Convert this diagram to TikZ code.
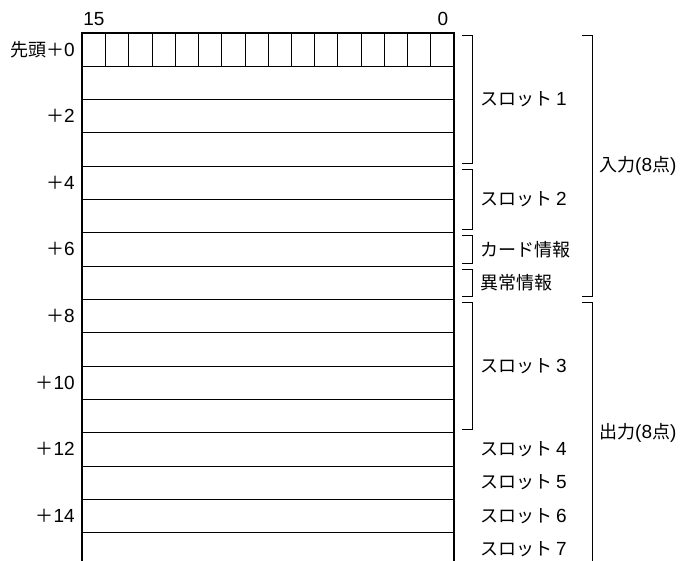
\documentclass[tikz,border=0pt]{standalone}
\usepackage{fontspec}
\setmainfont{Noto Sans CJK JP}
\newfontfamily\lat{Liberation Sans}
\newcommand\nm[1]{{\lat\fontsize{19}{20}\selectfont #1}}
\begin{document}
\begin{tikzpicture}[x=1pt,y=-1pt,
  frame/.style={line width=1.8pt},
  row line/.style={line width=0.8pt},
  bracket/.style={line width=0.8pt},
  lbl/.style={font=\fontsize{18}{20}\selectfont,inner sep=0pt},
  addr/.style={lbl,anchor=east},
  slot/.style={lbl,anchor=west}]
  \useasboundingbox (0,0) rectangle (684,561);
  \def\T{32.7}\def\h{33.33}\def\L{82.3}\def\R{454}

  % rows and bit cells
  \foreach \k in {1,...,15}
    \draw[row line] (\L,\T+\k*\h) -- (\R,\T+\k*\h);
  \foreach \i in {1,...,15}
    \draw[row line] (\L+\i*23.23,\T) -- (\L+\i*23.23,\T+\h);
  \draw[frame] (\L,561) -- (\L,\T) -- (\R,\T) -- (\R,561);

  \node[lbl] (b15) at (94,19) {\nm{15}};
  \node[lbl] (b0) at (443,19) {\nm{0}};

  % addresses
  \node[addr] (a0) at (75,\T+0.5*\h) {先頭＋\nm{0}};
  \foreach \j in {2,4,...,14}
    \node[addr] (a\j) at (75,\T+\j*\h+0.5*\h) {＋\nm{\j}};

  % small brackets
  \foreach \a/\b/\n in {0/4/s1,4/6/s2,6/7/card,7/8/err,8/12/s3}{
    \coordinate (\n t) at (472,\T+\a*\h+3);
    \coordinate (\n b) at (472,\T+\b*\h-3);
    \draw[bracket] ([xshift=-10pt]\n t) -- (\n t) -- (\n b) -- ([xshift=-10pt]\n b);
  }
  \node[slot] (l1) at (480,\T+2*\h) {スロット \nm{1}};
  \node[slot] (l2) at (480,\T+5*\h) {スロット \nm{2}};
  \node[slot] (lcard) at (480,\T+6.5*\h) {カード情報};
  \node[slot] (lerr) at (480,\T+7.5*\h) {異常情報};
  \node[slot] (l3) at (480,\T+10*\h) {スロット \nm{3}};
  \foreach \k/\s in {12/4,13/5,14/6,15/7}
    \node[slot] (l\s) at (480,\T+\k*\h+0.5*\h) {スロット \nm{\s}};

  % input / output brackets
  \coordinate (int) at (592,\T+3);
  \coordinate (inb) at (592,\T+8*\h-3);
  \coordinate (outt) at (592,\T+8*\h+3);
  \coordinate (outb) at (592,561);
  \draw[bracket] ([xshift=-10pt]int) -- (int) -- (inb) -- ([xshift=-10pt]inb);
  \draw[bracket] ([xshift=-10pt]outt) -- (outt) -- (outb);
  \node[slot] (in) at (599,\T+4*\h) {入力\nm{(8}点\nm{)}};
  \node[slot] (out) at (599,\T+12*\h) {出力\nm{(8}点\nm{)}};
\end{tikzpicture}
\end{document}
